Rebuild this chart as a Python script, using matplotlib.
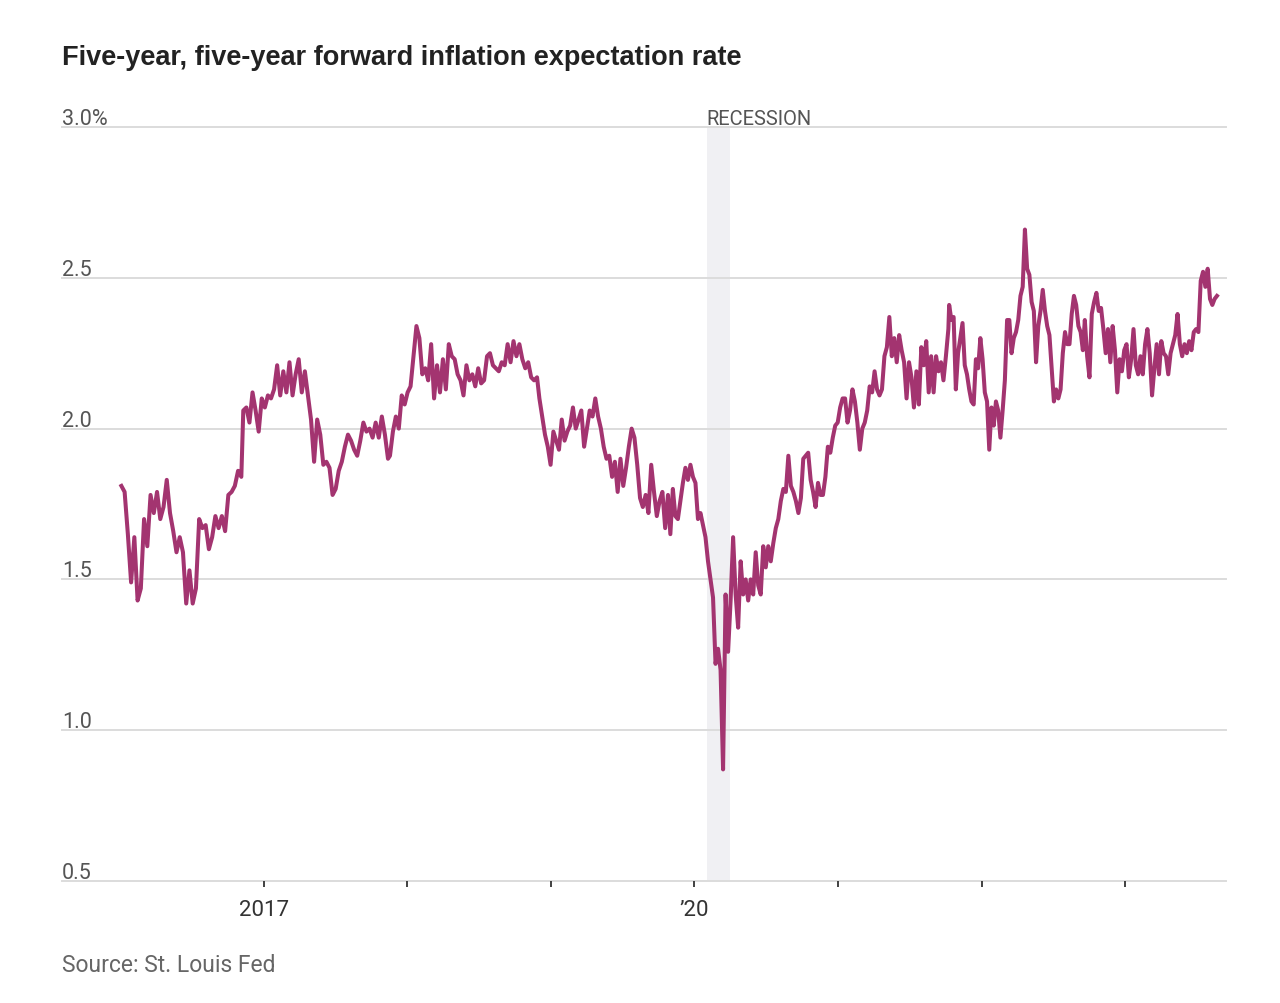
import pandas as pd
import matplotlib
matplotlib.use("Agg")
import matplotlib.pyplot as plt
import matplotlib.transforms as mtransforms

plt.rcParams['font.family'] = ['Roboto', 'Liberation Sans', 'DejaVu Sans']

# 5y5y forward inflation expectation in segments (start, end, values)
seg_a = ('2016-01-05', '2016-11-05', [
    1.81, 1.79, 1.65, 1.49, 1.64, 1.43, 1.47, 1.70, 1.61, 1.78, 1.72, 1.79, 1.70, 1.74, 1.83,
    1.72, 1.66, 1.59, 1.64, 1.59, 1.42, 1.53, 1.42, 1.47, 1.70, 1.67, 1.68, 1.60, 1.64, 1.71,
    1.67, 1.71, 1.66, 1.78, 1.79, 1.81, 1.86, 1.84])
seg_b = ('2016-11-10', '2017-11-13', [
    2.06, 2.07, 2.02, 2.12, 2.06, 1.99, 2.10, 2.07, 2.11, 2.10, 2.13, 2.21, 2.11, 2.19, 2.12,
    2.22, 2.11, 2.18, 2.23, 2.12, 2.19, 2.11, 2.03, 1.89, 2.03, 1.98, 1.88, 1.89, 1.87, 1.78,
    1.80, 1.86, 1.89, 1.94, 1.98, 1.96, 1.93, 1.91, 1.96, 2.02, 1.99, 2.00, 1.97, 2.02, 1.97,
    2.04, 1.98, 1.90])
seg_c = ('2017-11-18', '2018-11-27', [
    1.91, 1.99, 2.04, 2.00, 2.11, 2.08, 2.12, 2.14, 2.24, 2.34, 2.30, 2.18, 2.20, 2.16, 2.28,
    2.10, 2.21, 2.12, 2.23, 2.13, 2.28, 2.24, 2.23, 2.18, 2.16, 2.11, 2.21, 2.16, 2.18, 2.14,
    2.20, 2.15, 2.16, 2.24, 2.25, 2.21, 2.20, 2.19, 2.22, 2.21, 2.28, 2.22, 2.29, 2.24, 2.28,
    2.23, 2.20, 2.22, 2.17, 2.16, 2.17])
seg_d = ('2018-12-03', '2019-10-26', [
    2.10, 2.04, 1.98, 1.94, 1.88, 1.99, 1.96, 1.93, 2.03, 1.96, 1.99, 2.01, 2.07, 2.00, 2.03,
    2.06, 1.94, 2.00, 2.06, 2.04, 2.10, 2.04, 2.00, 1.94, 1.90, 1.91, 1.84, 1.89, 1.79, 1.90,
    1.81, 1.87, 1.94, 2.00, 1.97, 1.88, 1.77, 1.74, 1.78, 1.72, 1.88, 1.79, 1.71, 1.76, 1.79,
    1.67, 1.78])
seg_e = ('2019-11-01', '2020-09-28', [
    1.65, 1.80, 1.71, 1.70, 1.76, 1.82, 1.87, 1.83, 1.88, 1.84, 1.82, 1.70, 1.72, 1.68, 1.64,
    1.56, 1.50, 1.44, 1.22, 1.27, 1.20, 0.87, 1.45, 1.26, 1.43, 1.64, 1.45, 1.34, 1.56, 1.45,
    1.50, 1.43, 1.50, 1.45, 1.59, 1.48, 1.45, 1.61, 1.54, 1.61, 1.56, 1.62, 1.67, 1.70, 1.76,
    1.80, 1.79, 1.91, 1.81, 1.79, 1.76, 1.72, 1.77])
seg_f = ('2020-10-04', '2021-10-08', [
    1.90, 1.91, 1.92, 1.83, 1.79, 1.74, 1.82, 1.78, 1.78, 1.84, 1.94, 1.92, 1.97, 2.01, 2.02,
    2.07, 2.10, 2.10, 2.02, 2.06, 2.13, 2.09, 2.02, 1.93, 2.00, 2.02, 2.06, 2.14, 2.12, 2.19,
    2.13, 2.11, 2.13, 2.24, 2.27, 2.37, 2.24, 2.30, 2.22, 2.31, 2.26, 2.22, 2.10, 2.22, 2.17,
    2.07, 2.19, 2.08, 2.27, 2.21, 2.29, 2.12, 2.24, 2.12, 2.24, 2.19, 2.22, 2.16, 2.24, 2.33])
seg_g = ('2021-10-10', '2022-09-15', [
    2.41, 2.36, 2.37, 2.13, 2.25, 2.30, 2.35, 2.21, 2.18, 2.13, 2.09, 2.08, 2.23, 2.20, 2.30,
    2.23, 2.12, 2.09, 1.93, 2.07, 2.01, 2.09, 2.06, 1.97, 2.06, 2.16, 2.36, 2.36, 2.25, 2.30,
    2.32, 2.36, 2.44, 2.47, 2.66, 2.53, 2.51, 2.42, 2.39, 2.22, 2.34, 2.39, 2.46, 2.39, 2.34,
    2.31, 2.20, 2.09, 2.13, 2.10, 2.13, 2.25, 2.32, 2.28, 2.28, 2.38, 2.44, 2.41, 2.34, 2.32,
    2.26])
seg_h = ('2022-09-20', '2023-08-22', [
    2.36, 2.24, 2.17, 2.38, 2.42, 2.45, 2.39, 2.40, 2.33, 2.25, 2.33, 2.22, 2.34, 2.26, 2.12,
    2.23, 2.19, 2.26, 2.28, 2.17, 2.23, 2.33, 2.21, 2.18, 2.24, 2.18, 2.28, 2.33, 2.25, 2.11,
    2.20, 2.28, 2.18, 2.29, 2.25, 2.24, 2.18, 2.25, 2.28, 2.31, 2.38, 2.28, 2.24, 2.28, 2.25,
    2.29, 2.26, 2.32, 2.33, 2.32, 2.49, 2.52, 2.47, 2.53, 2.43, 2.41, 2.43, 2.44])
segments = [seg_a, seg_b, seg_c, seg_d, seg_e, seg_f, seg_g, seg_h]

recession = ('2020-02-01', '2020-04-01')
y_ticks = [0.5, 1.0, 1.5, 2.0, 2.5, 3.0]
y_labels = ['0.5', '1.0', '1.5', '2.0', '2.5', '3.0%']
x_years = [2017, 2018, 2019, 2020, 2021, 2022, 2023]
x_labels = ['2017', '', '', '\u201920', '', '', '']

title = 'Five-year, five-year forward inflation expectation rate'
source = 'Source: St. Louis Fed'

# build the series
dates, values = [], []
for start, end, vals in segments:
    dates += list(pd.date_range(start, end, periods=len(vals)))
    values += vals
series = pd.Series(values, index=dates)

fig = plt.figure(figsize=(12.8, 10.04), dpi=100)
ax = fig.add_axes([62/1280, 1 - 882/1004, (1226 - 62)/1280, (882 - 128)/1004])

ax.set_ylim(0.5, 3.0)
ax.set_xlim(pd.Timestamp('2015-08-07'), pd.Timestamp('2023-09-14'))

# recession band
ax.axvspan(pd.Timestamp(recession[0]), pd.Timestamp(recession[1]),
           color='#f0f0f3', zorder=0, lw=0)

# gridlines
for v in y_ticks:
    ax.axhline(v, color='#dcdcdc', lw=1.4, zorder=1, clip_on=False)

ax.plot(series.index, series.values, color='#a33470', lw=2.9, zorder=3)

for s in ax.spines.values():
    s.set_visible(False)

ax.set_yticks([])
ax.set_xticks([pd.Timestamp(f'{y}-01-01') for y in x_years])
ax.set_xticklabels(x_labels)
ax.tick_params(axis='x', length=4, width=1.3, color='#333333', pad=9,
               labelsize=16, labelcolor='#333333')

# y labels sit above the gridlines
trans = mtransforms.blended_transform_factory(ax.transAxes, ax.transData)
trans = mtransforms.offset_copy(trans, fig=fig, y=3, units='dots')
for v, lab in zip(y_ticks, y_labels):
    ax.text(0, v, lab, transform=trans, ha='left', va='baseline',
            fontsize=15.5, color='#555555')

rtrans = mtransforms.offset_copy(ax.transData, fig=fig, y=3, units='dots')
ax.text(pd.Timestamp(recession[0]), 3.0, 'RECESSION', transform=rtrans,
        ha='left', va='baseline', fontsize=14.5, color='#555555')

fig.text(62/1280, 1 - 65/1004, title, fontsize=19.5, fontweight='bold',
         color='#222222', ha='left', va='baseline',
         family=['Liberation Sans', 'DejaVu Sans'])
fig.text(62/1280, 1 - 972/1004, source, fontsize=16.5, color='#666666',
         ha='left', va='baseline')

fig.savefig('out.png', dpi=100)
